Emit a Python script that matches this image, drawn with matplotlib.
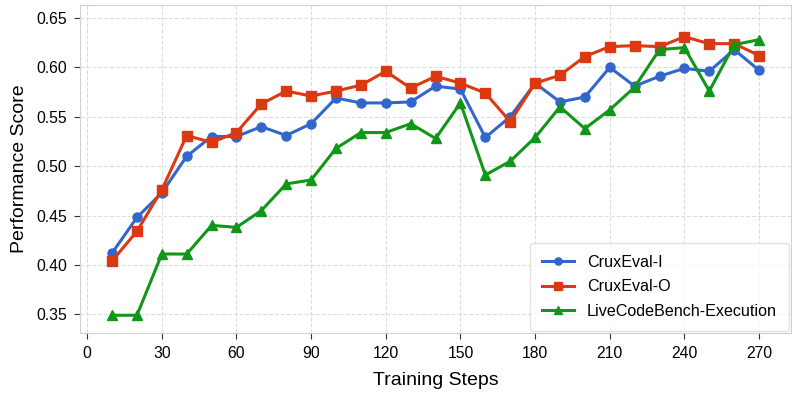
import numpy as np
import matplotlib
matplotlib.use("Agg")
import matplotlib.pyplot as plt

plt.rcParams['font.family'] = ['Liberation Sans', 'DejaVu Sans']

# Data
steps = list(range(10, 280, 10))
crux_i = [0.412, 0.448, 0.473, 0.510, 0.530, 0.530, 0.540, 0.531, 0.543, 0.569,
          0.564, 0.564, 0.565, 0.581, 0.578, 0.529, 0.550, 0.584, 0.565, 0.570,
          0.600, 0.581, 0.591, 0.599, 0.596, 0.618, 0.597]
crux_o = [0.404, 0.434, 0.476, 0.531, 0.524, 0.534, 0.563, 0.576, 0.571, 0.576,
          0.582, 0.596, 0.579, 0.591, 0.584, 0.574, 0.545, 0.584, 0.592, 0.611,
          0.621, 0.622, 0.621, 0.631, 0.624, 0.624, 0.612]
lcb_exec = [0.349, 0.349, 0.411, 0.411, 0.440, 0.438, 0.455, 0.482, 0.486, 0.518,
            0.534, 0.534, 0.543, 0.528, 0.564, 0.491, 0.505, 0.529, 0.560, 0.538,
            0.557, 0.580, 0.618, 0.620, 0.576, 0.623, 0.628]
xticks = list(range(0, 271, 30))
yticks = [0.35, 0.40, 0.45, 0.50, 0.55, 0.60, 0.65]

fig, ax = plt.subplots(figsize=(7.97, 3.96), dpi=100)
fig.subplots_adjust(left=0.100, right=0.993, top=0.987, bottom=0.159)

ax.plot(steps, crux_i, color='#3366cc', marker='o', lw=2.2, ms=6.5, label='CruxEval-I')
ax.plot(steps, crux_o, color='#dc3912', marker='s', lw=2.2, ms=6.5, label='CruxEval-O')
ax.plot(steps, lcb_exec, color='#109618', marker='^', lw=2.2, ms=7, label='LiveCodeBench-Execution')

ax.set_xticks(xticks)
ax.set_yticks(yticks)
ax.set_ylim(0.331, 0.663)
ax.tick_params(labelsize=11.3, length=4, pad=5, color='#333333')
ax.set_xlabel('Training Steps', fontsize=14, labelpad=8)
ax.set_ylabel('Performance Score', fontsize=14, labelpad=6)
ax.grid(True, ls='--', color='#dddddd', lw=0.8)
for s in ax.spines.values():
    s.set_color('#d0d0d0')

leg = ax.legend(loc='lower right', fontsize=11.6, frameon=True, fancybox=True,
                borderpad=0.75, labelspacing=0.58, markerscale=0.8,
                borderaxespad=0.15)
leg.get_frame().set_edgecolor('#dddddd')

fig.savefig('out.png', dpi=100)
